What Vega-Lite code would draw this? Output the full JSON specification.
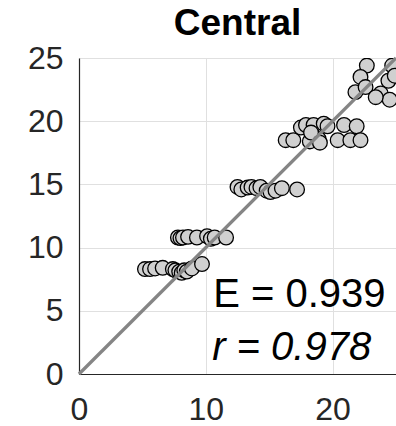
{
  "$schema": "https://vega.github.io/schema/vega-lite/v6.json",
  "width": 317,
  "height": 316,
  "autosize": "none",
  "padding": {"left": 79, "top": 58, "right": 0, "bottom": 52},
  "background": "white",
  "title": {"text": "Central", "fontSize": 37, "fontWeight": "bold", "font": "Liberation Sans", "color": "#000000", "anchor": "middle", "frame": "group", "baseline": "alphabetic", "offset": -30},
  "config": {
    "view": {"stroke": null},
    "axis": {"labelFont": "Liberation Sans", "labelFontSize": 32, "labelColor": "#262626", "labelFlush": false, "domainColor": "#262626", "domainWidth": 1.2, "gridColor": "#e0e0e0", "gridWidth": 1, "ticks": false, "title": null}
  },
  "data": {"values": [
    {"obs": 5.2, "sim": 8.3}, {"obs": 5.6, "sim": 8.3}, {"obs": 6.0, "sim": 8.35}, {"obs": 6.6, "sim": 8.4},
    {"obs": 7.4, "sim": 8.3}, {"obs": 7.6, "sim": 8.2}, {"obs": 7.9, "sim": 8.1}, {"obs": 8.1, "sim": 8.0},
    {"obs": 8.3, "sim": 8.2}, {"obs": 8.5, "sim": 8.1}, {"obs": 8.9, "sim": 8.35}, {"obs": 9.7, "sim": 8.7},
    {"obs": 7.8, "sim": 10.8}, {"obs": 8.0, "sim": 10.75}, {"obs": 8.2, "sim": 10.8}, {"obs": 8.6, "sim": 10.85},
    {"obs": 9.3, "sim": 10.8}, {"obs": 10.1, "sim": 10.9}, {"obs": 10.4, "sim": 10.7}, {"obs": 10.7, "sim": 10.8},
    {"obs": 11.6, "sim": 10.8},
    {"obs": 12.5, "sim": 14.8}, {"obs": 12.8, "sim": 14.6}, {"obs": 13.3, "sim": 14.75}, {"obs": 13.6, "sim": 14.8},
    {"obs": 14.0, "sim": 14.7}, {"obs": 14.3, "sim": 14.8}, {"obs": 14.8, "sim": 14.5}, {"obs": 15.1, "sim": 14.4},
    {"obs": 15.5, "sim": 14.5}, {"obs": 16.0, "sim": 14.7}, {"obs": 17.2, "sim": 14.6},
    {"obs": 16.3, "sim": 18.5}, {"obs": 16.9, "sim": 18.5}, {"obs": 17.5, "sim": 19.5}, {"obs": 17.9, "sim": 19.7},
    {"obs": 18.2, "sim": 18.4}, {"obs": 18.5, "sim": 19.7}, {"obs": 18.9, "sim": 18.6}, {"obs": 19.3, "sim": 19.8},
    {"obs": 18.3, "sim": 19.1}, {"obs": 19.6, "sim": 19.6}, {"obs": 20.4, "sim": 18.5}, {"obs": 20.9, "sim": 19.7},
    {"obs": 21.4, "sim": 18.5}, {"obs": 21.9, "sim": 19.6}, {"obs": 22.2, "sim": 18.5}, {"obs": 19.0, "sim": 18.3},
    {"obs": 22.7, "sim": 24.4}, {"obs": 24.7, "sim": 24.4}, {"obs": 22.2, "sim": 23.5}, {"obs": 24.4, "sim": 23.2},
    {"obs": 21.8, "sim": 22.3}, {"obs": 23.8, "sim": 22.2}, {"obs": 24.5, "sim": 21.7}, {"obs": 22.6, "sim": 22.7},
    {"obs": 24.9, "sim": 23.6}, {"obs": 23.4, "sim": 21.9}
  ]},
  "layer": [
    {
      "mark": {"type": "point", "shape": "circle", "filled": true, "size": 215, "fill": "#d0d0d0", "stroke": "#000000", "strokeWidth": 1.3, "opacity": 1, "clip": true},
      "encoding": {
        "x": {"field": "obs", "type": "quantitative", "scale": {"domain": [0, 25], "nice": false}, "axis": {"values": [0, 10, 20], "labelPadding": 20, "grid": true}},
        "y": {"field": "sim", "type": "quantitative", "scale": {"domain": [0, 25], "nice": false}, "axis": {"values": [0, 5, 10, 15, 20, 25], "labelPadding": 16, "grid": true}}
      }
    },
    {
      "data": {"values": [{}]},
      "mark": {"type": "rule", "color": "#858585", "strokeWidth": 3.3},
      "encoding": {
        "x": {"datum": 0, "type": "quantitative"},
        "y": {"datum": 0, "type": "quantitative"},
        "x2": {"datum": 25},
        "y2": {"datum": 25}
      }
    },
    {
      "data": {"values": [{}]},
      "mark": {"type": "text", "align": "left", "baseline": "alphabetic", "font": "Liberation Sans", "fontSize": 40, "color": "#000000"},
      "encoding": {
        "x": {"datum": 10.58, "type": "quantitative"},
        "y": {"datum": 5.32, "type": "quantitative"},
        "text": {"value": "E = 0.939"}
      }
    },
    {
      "data": {"values": [{}]},
      "mark": {"type": "text", "align": "left", "baseline": "alphabetic", "font": "Liberation Sans", "fontSize": 40, "fontStyle": "italic", "color": "#000000"},
      "encoding": {
        "x": {"datum": 10.5, "type": "quantitative"},
        "y": {"datum": 1.1, "type": "quantitative"},
        "text": {"value": "r = 0.978"}
      }
    }
  ]
}
